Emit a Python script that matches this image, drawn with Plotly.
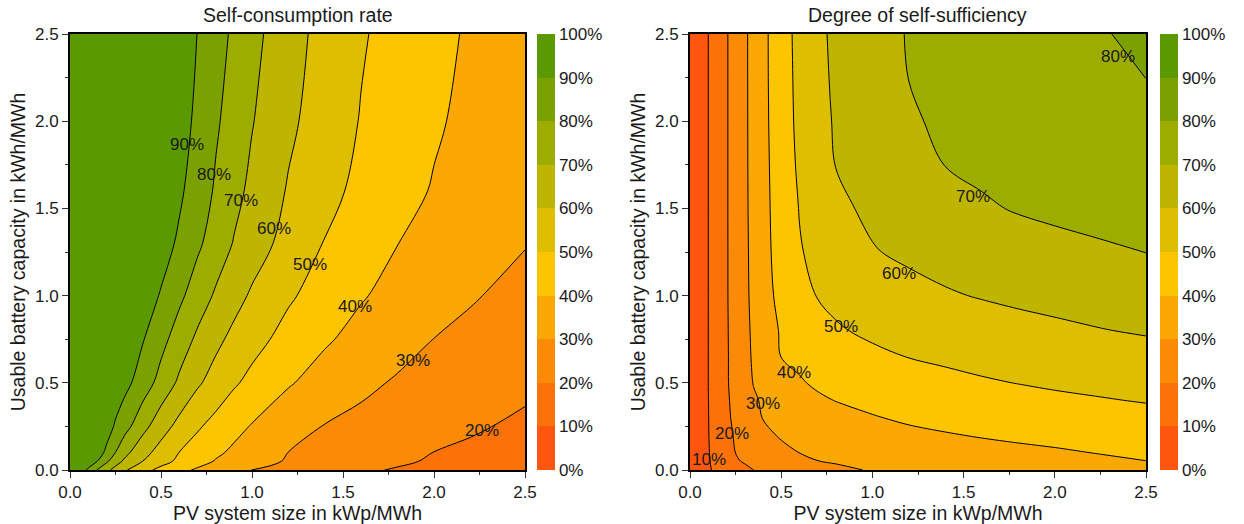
import numpy as np
import plotly.graph_objects as go

# ---------------- data (values in %) ----------------
# Self-consumption rate: grid of PV size (x) and battery capacity (y)
sc_pv = [0, 0.05, 0.1, 0.15, 0.2, 0.25, 0.3, 0.4, 0.5, 0.6, 0.7, 0.8, 0.9, 1.0,
         1.2, 1.4, 1.6, 1.8, 2.0, 2.2, 2.5]
sc_batt = [0, 0.05, 0.1, 0.25, 0.5, 0.75, 1.0, 1.3, 1.6, 2.0, 2.5]
sc_b000 = [100, 97.0, 88.4, 79.5, 72.6, 66.6, 61.2, 53.2, 47.3, 42.5, 38.7, 35.8, 32.8, 29.9, 26.7, 23.8, 21.1, 19.4, 18.2, 16.9, 15.0]
sc_b005 = [100, 98.5, 95.5, 89.9, 81.7, 74.3, 68.3, 59.9, 53.5, 48.0, 43.6, 39.4, 36.6, 33.8, 29.1, 26.4, 23.8, 21.1, 19.2, 17.9, 16.0]
sc_b010 = [100, 99.0, 97.0, 94.0, 88.3, 79.9, 72.9, 63.3, 56.3, 49.9, 45.8, 41.7, 38.3, 35.6, 29.9, 27.5, 24.9, 22.4, 19.9, 18.6, 16.5]
sc_b025 = [100, 99.5, 98.5, 96.8, 94.0, 88.9, 83.7, 73.2, 64.2, 57.1, 51.2, 46.9, 42.9, 39.4, 34.2, 29.6, 27.4, 25.3, 23.1, 21.0, 18.5]
sc_b050 = [100, 99.7, 99.2, 98.4, 97.2, 95.5, 93.0, 85.2, 76.5, 68.3, 61.4, 56.1, 51.2, 47.5, 40.8, 36.3, 32.1, 29.0, 26.9, 24.9, 21.8]
sc_b075 = [100, 99.8, 99.5, 99.0, 98.3, 97.2, 95.6, 90.6, 83.1, 75.4, 68.2, 62.4, 57.5, 53.3, 46.7, 41.1, 37.1, 33.5, 29.9, 27.8, 24.6]
sc_b100 = [100, 99.9, 99.7, 99.4, 99.0, 98.4, 97.6, 94.6, 89.3, 82.1, 75.2, 68.8, 63.5, 58.7, 51.3, 45.8, 40.7, 37.2, 34.0, 30.8, 27.2]
sc_b130 = [100, 99.9, 99.8, 99.6, 99.3, 99.0, 98.6, 96.7, 93.8, 88.6, 81.8, 75.5, 69.5, 64.8, 56.5, 49.6, 44.9, 40.1, 37.3, 34.5, 30.4]
sc_b160 = [100, 99.9, 99.8, 99.7, 99.5, 99.2, 98.9, 97.5, 95.2, 91.5, 85.8, 78.8, 72.9, 67.8, 59.2, 52.9, 47.6, 43.3, 39.3, 36.4, 32.0]
sc_b200 = [100, 99.95, 99.9, 99.8, 99.6, 99.4, 99.1, 98.2, 96.5, 93.3, 88.4, 81.4, 75.8, 70.5, 61.9, 55.3, 49.5, 45.3, 41.2, 37.7, 33.0]
sc_b250 = [100, 99.95, 99.9, 99.8, 99.7, 99.5, 99.3, 98.5, 97.0, 94.3, 89.9, 84.0, 78.3, 72.9, 63.8, 56.8, 50.9, 46.6, 42.6, 38.9, 34.0]

# Degree of self-sufficiency
ss_pv = [0, 0.05, 0.1, 0.15, 0.2, 0.25, 0.3, 0.35, 0.4, 0.5, 0.6, 0.7, 0.8, 1.0,
         1.2, 1.4, 1.6, 1.8, 2.0, 2.25, 2.5]
ss_batt = [0, 0.05, 0.1, 0.2, 0.3, 0.4, 0.5, 0.65, 0.8, 1.0, 1.25, 1.5, 1.75, 2.0, 2.25, 2.5]
ss_b000 = [0.2, 4.5, 9.1, 11.7, 13.8, 15.9, 18.0, 20.05, 21.1, 23.2, 25.2, 27.0, 28.6, 30.5, 31.9, 33.1, 34.2, 35.1, 35.9, 37.0, 38.0]
ss_b005 = [0.2, 4.6, 9.3, 12.7, 15.7, 19.0, 20.8, 22.0, 23.1, 25.4, 27.7, 29.9, 30.6, 32.2, 33.6, 34.7, 35.9, 36.7, 37.5, 38.7, 39.9]
ss_b010 = [0.2, 4.8, 9.5, 13.2, 16.8, 20.1, 21.6, 23.1, 24.6, 27.5, 30.1, 31.2, 32.0, 33.7, 35.2, 36.3, 37.5, 38.3, 39.1, 40.3, 41.4]
ss_b020 = [0.2, 4.85, 9.7, 13.7, 17.7, 20.9, 23.2, 25.3, 27.6, 31.0, 32.5, 33.8, 34.7, 36.6, 38.3, 39.5, 40.5, 41.4, 42.2, 43.4, 44.5]
ss_b030 = [0.2, 4.9, 9.8, 14.1, 18.4, 21.9, 24.8, 27.7, 30.3, 32.9, 34.7, 36.3, 37.5, 39.5, 41.2, 42.3, 43.4, 44.3, 45.3, 46.4, 47.5]
ss_b040 = [0.2, 4.95, 9.9, 14.4, 18.8, 22.4, 25.7, 29.0, 30.9, 34.9, 37.0, 38.9, 40.2, 42.1, 43.8, 45.0, 46.2, 47.3, 48.4, 49.5, 50.5]
ss_b050 = [0.2, 5.0, 9.98, 14.5, 19.1, 23.1, 27.0, 30.4, 32.1, 36.9, 39.3, 41.1, 42.5, 44.6, 46.4, 47.7, 49.1, 50.2, 51.2, 52.1, 53.1]
ss_b065 = [0.2, 5.0, 9.98, 14.5, 19.1, 23.3, 27.4, 31.2, 34.3, 40.1, 41.6, 44.0, 45.8, 48.4, 50.2, 51.5, 52.7, 53.8, 54.8, 55.9, 57.0]
ss_b080 = [0.2, 5.0, 9.98, 14.6, 19.2, 23.4, 27.6, 31.7, 35.5, 40.8, 43.4, 46.6, 49.2, 51.5, 53.3, 54.8, 56.1, 57.4, 58.4, 59.7, 60.8]
ss_b100 = [0.2, 5.0, 9.98, 14.6, 19.3, 23.7, 28.0, 32.3, 36.5, 42.5, 46.8, 50.4, 51.9, 55.1, 57.4, 59.2, 60.5, 61.6, 62.6, 63.8, 65.0]
ss_b125 = [0.2, 5.0, 9.98, 14.7, 19.3, 23.8, 28.2, 32.6, 37.0, 43.7, 49.4, 52.1, 55.0, 59.5, 61.5, 63.1, 64.8, 66.2, 67.3, 68.9, 70.1]
ss_b150 = [0.2, 5.0, 9.98, 14.7, 19.3, 23.9, 28.4, 32.8, 37.2, 44.3, 50.3, 53.8, 58.3, 61.6, 64.0, 66.6, 69.0, 70.6, 71.8, 72.6, 73.3]
ss_b175 = [0.2, 5.0, 9.98, 14.7, 19.3, 23.9, 28.5, 32.9, 37.3, 45.0, 51.4, 55.9, 60.2, 63.2, 66.6, 70.15, 71.6, 72.7, 74.0, 75.1, 75.9]
ss_b200 = [0.2, 5.0, 9.98, 14.7, 19.3, 23.9, 28.5, 33.0, 37.5, 45.5, 52.1, 57.1, 60.9, 64.6, 69.1, 71.3, 73.0, 74.3, 75.8, 77.0, 78.1]
ss_b225 = [0.2, 5.0, 9.98, 14.7, 19.3, 23.9, 28.5, 33.1, 37.6, 45.8, 52.4, 57.7, 61.4, 65.7, 70.1, 72.1, 74.0, 75.5, 77.0, 78.5, 80.05]
ss_b250 = [0.2, 5.0, 9.98, 14.7, 19.3, 23.9, 28.5, 33.1, 37.6, 46.0, 52.7, 58.1, 61.8, 66.6, 70.5, 72.7, 74.7, 76.5, 78.0, 79.6, 81.2]

# Contour labels shown in the reference (level, x, y)
sc_label_levels = [90, 80, 70, 60, 50, 40, 30, 20]
sc_label_x = [0.641, 0.791, 0.938, 1.119, 1.319, 1.566, 1.883, 2.265]
sc_label_y = [1.868, 1.696, 1.545, 1.385, 1.179, 0.936, 0.630, 0.225]
ss_label_levels = [10, 20, 30, 40, 50, 60, 70, 80]
ss_label_x = [0.106, 0.229, 0.398, 0.572, 0.828, 1.146, 1.553, 2.348]
ss_label_y = [0.063, 0.210, 0.382, 0.558, 0.821, 1.127, 1.566, 2.369]

# ---------------- styling ----------------
band_colors = ["#FF560E", "#FC7208", "#FB8B07", "#FBA805", "#FDC400",
               "#DEBE00", "#BDB500", "#9DAD00", "#7BA100", "#5A9900"]
colorscale = []
for k, c in enumerate(band_colors):
    colorscale.append([k / 10, c])
    colorscale.append([(k + 1) / 10, c])

FONT = "Liberation Sans, Arial, sans-serif"
TXT = "#1a1a1a"
W, H = 1244, 524
X1 = (70, 525)
X2 = (690, 1146)
YP = (34, 470)
TICK_SIZE = 17
TITLE_SIZE = 19.5

def fx(px):
    return px / W

def fy(py):
    return 1 - py / H

sc_z = np.array([sc_b000, sc_b005, sc_b010, sc_b025, sc_b050, sc_b075, sc_b100,
                 sc_b130, sc_b160, sc_b200, sc_b250]) / 100.0
ss_z = np.array([ss_b000, ss_b005, ss_b010, ss_b020, ss_b030, ss_b040, ss_b050, ss_b065,
                 ss_b080, ss_b100, ss_b125, ss_b150, ss_b175, ss_b200, ss_b225, ss_b250]) / 100.0

fig = go.Figure()

def add_panel(x, y, z, xa, ya, cbx):
    fig.add_trace(go.Contour(
        x=x, y=y, z=z, xaxis=xa, yaxis=ya,
        autocontour=False, zmin=0, zmax=1,
        contours=dict(start=0, end=1, size=0.1, coloring="fill", showlines=False),
        colorscale=colorscale, line=dict(width=0, smoothing=1),
        hoverinfo="skip", showlegend=False,
        colorbar=dict(
            x=cbx, xanchor="left", y=fy((YP[0] + YP[1]) / 2), yanchor="middle",
            len=(YP[1] - YP[0]) / H, lenmode="fraction", thickness=18,
            outlinewidth=0, ticks="", tick0=0, dtick=0.1, tickformat=".0%",
            tickfont=dict(family=FONT, size=TICK_SIZE, color=TXT), ypad=0, xpad=0,
        ),
    ))
    fig.add_trace(go.Contour(
        x=x, y=y, z=z, xaxis=xa, yaxis=ya,
        autocontour=False, showscale=False, showlegend=False,
        contours=dict(start=0.1, end=0.9, size=0.1, coloring="none", showlines=True),
        line=dict(color="black", width=1, smoothing=1),
        hoverinfo="skip",
    ))

add_panel(sc_pv, sc_batt, sc_z, "x", "y", fx(537))
add_panel(ss_pv, ss_batt, ss_z, "x2", "y2", fx(1160))

axis_common = dict(
    range=[0, 2.5], tick0=0, dtick=0.5, tickformat=".1f", automargin=False,
    ticks="outside", ticklen=6, tickwidth=1, tickcolor="#333",
    minor=dict(dtick=0.25, ticklen=3, ticks="outside", tickcolor="#333"),
    showline=True, linecolor="black", linewidth=2, mirror=True,
    showgrid=False, zeroline=False,
    tickfont=dict(family=FONT, size=TICK_SIZE, color=TXT),
    title_font=dict(family=FONT, size=TITLE_SIZE, color=TXT),
)

fig.update_layout(
    width=W, height=H, margin=dict(l=0, r=0, t=0, b=0, autoexpand=False),
    paper_bgcolor="white", plot_bgcolor="white", showlegend=False,
    font=dict(family=FONT, color=TXT),
    xaxis=dict(domain=[fx(X1[0]), fx(X1[1])], anchor="y",
               title=dict(text="PV system size in kWp/MWh", standoff=0), **axis_common),
    yaxis=dict(domain=[fy(YP[1]), fy(YP[0])], anchor="x",
               title=dict(text="Usable battery capacity in kWh/MWh", standoff=4), **axis_common),
    xaxis2=dict(domain=[fx(X2[0]), fx(X2[1])], anchor="y2",
                title=dict(text="PV system size in kWp/MWh", standoff=0), **axis_common),
    yaxis2=dict(domain=[fy(YP[1]), fy(YP[0])], anchor="x2",
                title=dict(text="Usable battery capacity in kWh/MWh", standoff=4), **axis_common),
)

annotations = [
    dict(text="Self-consumption rate", x=fx((X1[0] + X1[1]) / 2), y=fy(15),
         xref="paper", yref="paper", showarrow=False, xanchor="center", yanchor="middle",
         font=dict(family=FONT, size=TITLE_SIZE, color=TXT)),
    dict(text="Degree of self-sufficiency", x=fx((X2[0] + X2[1]) / 2), y=fy(15),
         xref="paper", yref="paper", showarrow=False, xanchor="center", yanchor="middle",
         font=dict(family=FONT, size=TITLE_SIZE, color=TXT)),
]
for lev, lx, ly in zip(sc_label_levels, sc_label_x, sc_label_y):
    annotations.append(dict(text=f"{lev}%", x=lx, y=ly, xref="x", yref="y",
                            showarrow=False, font=dict(family=FONT, size=TICK_SIZE, color=TXT)))
for lev, lx, ly in zip(ss_label_levels, ss_label_x, ss_label_y):
    annotations.append(dict(text=f"{lev}%", x=lx, y=ly, xref="x2", yref="y2",
                            showarrow=False, font=dict(family=FONT, size=TICK_SIZE, color=TXT)))
fig.update_layout(annotations=annotations)

fig.write_html("out.html", config={"displayModeBar": False},
               post_script="document.body.style.margin='0';")
